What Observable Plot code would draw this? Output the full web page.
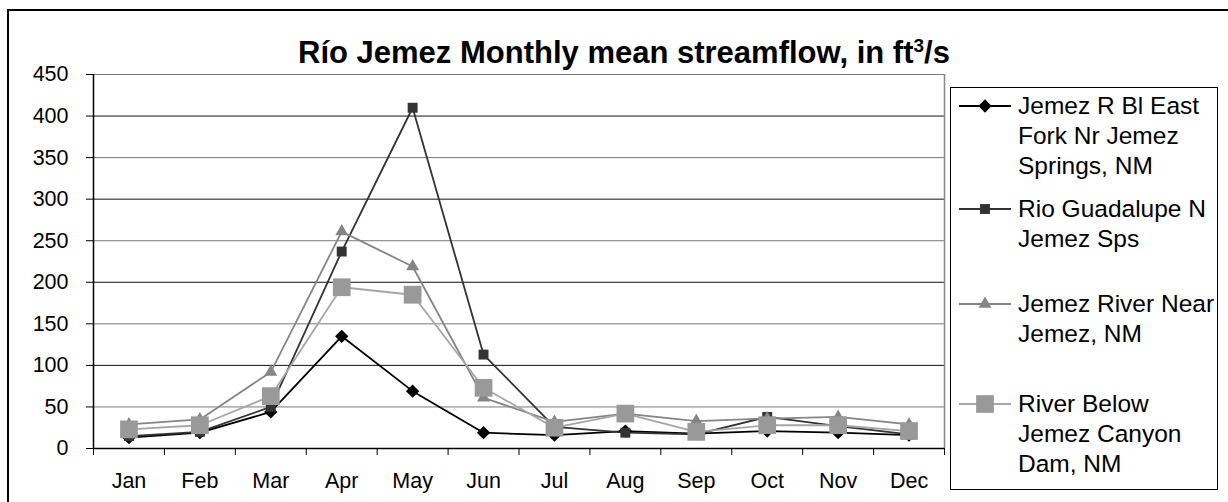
<!DOCTYPE html>
<html>
<head>
<meta charset="utf-8">
<script src="https://cdn.jsdelivr.net/npm/d3@7"></script>
<script src="https://cdn.jsdelivr.net/npm/@observablehq/plot@0.6"></script>
<style>
  html, body { margin: 0; padding: 0; background: #fff; }
  #wrap { position: relative; width: 1228px; height: 502px; overflow: hidden; font-family: "Liberation Sans", Arial, sans-serif; color: #000; }
  #frame { position: absolute; left: 7px; top: 9px; width: 1400px; height: 700px; border: 2px solid #000; box-sizing: border-box; }
  #title { position: absolute; top: 35px; left: 274px; width: 700px; text-align: center; font-weight: bold; font-size: 31px; line-height: 36px; white-space: nowrap; }
  #title sup { font-size: 19px; vertical-align: top; position: relative; top: -7px; }
  #chart { position: absolute; left: 0; top: 0; }
  #legend { position: absolute; left: 950px; top: 87px; width: 268px; height: 403px; border: 1px solid #000; box-sizing: border-box; overflow: hidden; background: #fff; }
  .entry { position: absolute; left: 0; width: 300px; }
  .entry svg { position: absolute; left: 6px; top: 0; }
  .entry .txt { position: absolute; left: 67px; top: 0; font-size: 24.5px; line-height: 30px; white-space: nowrap; }
</style>
</head>
<body>
<div id="wrap">
  <div id="frame"></div>
  <div id="chart"></div>
  <div id="title">Río Jemez Monthly mean streamflow, in ft<sup>3</sup>/s</div>
  <div id="legend"></div>
</div>
<script>
// ---- data ----
const months = ["Jan","Feb","Mar","Apr","May","Jun","Jul","Aug","Sep","Oct","Nov","Dec"];
const seriesNames = [
  "Jemez R Bl East Fork Nr Jemez Springs, NM",
  "Rio Guadalupe N Jemez Sps",
  "Jemez River Near Jemez, NM",
  "River Below Jemez Canyon Dam, NM"
];
const legendLines = [
  ["Jemez R Bl East", "Fork Nr Jemez", "Springs, NM"],
  ["Rio Guadalupe N", "Jemez Sps"],
  ["Jemez River Near", "Jemez, NM"],
  ["River Below", "Jemez Canyon", "Dam, NM"]
];
const eastFork  = [13, 19, 44, 135, 69, 19, 16, 21, 18, 21, 19, 16];
const guadalupe = [15, 20, 50, 237, 410, 113, 26, 19, 17, 38, 27, 17];
const nearJemez = [29, 35, 92, 261, 219, 61, 32, 42, 33, 36, 38, 29];
const belowDam  = [23, 28, 63, 194, 185, 73, 25, 42, 20, 28, 28, 21];
const yTicks = [0, 50, 100, 150, 200, 250, 300, 350, 400, 450];

// ---- styles ----
const styles = [
  {line: "#000000", fill: "#000000", symbol: "diamond2", r: 6},
  {line: "#333333", fill: "#333333", symbol: "square", r: 5.6},
  {line: "#858585", fill: "#858585", symbol: "triangle", r: 4.8},
  {line: "#a6a6a6", fill: "#999999", symbol: "square", r: 10}
];
const allValues = [eastFork, guadalupe, nearJemez, belowDam];

const seriesData = allValues.map((vals, s) =>
  vals.map((v, i) => ({series: seriesNames[s], pos: i + 0.5, value: v}))
);

const marks = [
  Plot.ruleY(yTicks.filter(t => t > 0), {stroke: d => (d / 50) % 2 ? "#7a7a7a" : "#111", strokeWidth: 1}),
  Plot.ruleX([12], {stroke: "#888", strokeWidth: 1.5}),
  Plot.axisY({ticks: yTicks, tickSize: 7, tickPadding: 18, label: null, fontSize: 21.5}),
  Plot.axisX({ticks: d3.range(13), tickSize: 7, tickFormat: () => "", label: null}),
  Plot.axisX({ticks: months.map((m, i) => i + 0.5), tickSize: 0, tickPadding: 24, label: null,
              tickFormat: v => months[Math.floor(v)], fontSize: 21.5}),
  Plot.ruleX([0], {stroke: "#000", strokeWidth: 1.5}),
  Plot.ruleY([0], {stroke: "#000", strokeWidth: 1.5})
];
seriesData.forEach((rows, s) => {
  const st = styles[s];
  marks.push(Plot.line(rows, {x: "pos", y: "value", stroke: st.line, strokeWidth: 1.8}));
  marks.push(Plot.dot(rows, {x: "pos", y: "value", symbol: () => st.symbol, fill: st.fill, stroke: "none", r: st.r}));
});

const chart = Plot.plot({
  width: 950,
  height: 502,
  marginLeft: 93,
  marginRight: 6,
  marginTop: 74,
  marginBottom: 54,
  x: {domain: [0, 12]},
  y: {domain: [0, 450]},
  symbol: {type: "identity"},
  style: {fontFamily: "'Liberation Sans', Arial, sans-serif", fontSize: "21.5px", color: "#000", background: "transparent", overflow: "visible"},
  marks
});
document.getElementById("chart").appendChild(chart);

// ---- legend ----
const legend = document.getElementById("legend");
const entryTops = [3, 106, 201, 301];
legendLines.forEach((lines, s) => {
  const st = styles[s];
  const e = document.createElement("div");
  e.className = "entry";
  e.style.top = entryTops[s] + "px";
  const svg = d3.create("svg").attr("width", 56).attr("height", 30);
  svg.append("line").attr("x1", 2).attr("x2", 54).attr("y1", 15).attr("y2", 15)
     .attr("stroke", st.line).attr("stroke-width", 1.8);
  svg.append("path").attr("transform", "translate(28,15)")
     .attr("d", d3.symbol(st.symbol === "diamond2" ? d3.symbolDiamond2 : st.symbol === "triangle" ? d3.symbolTriangle : d3.symbolSquare, Math.PI * st.r * st.r)())
     .attr("fill", st.fill);
  e.appendChild(svg.node());
  const t = document.createElement("div");
  t.className = "txt";
  t.innerHTML = lines.join("<br>");
  e.appendChild(t);
  legend.appendChild(e);
});
</script>
</body>
</html>
